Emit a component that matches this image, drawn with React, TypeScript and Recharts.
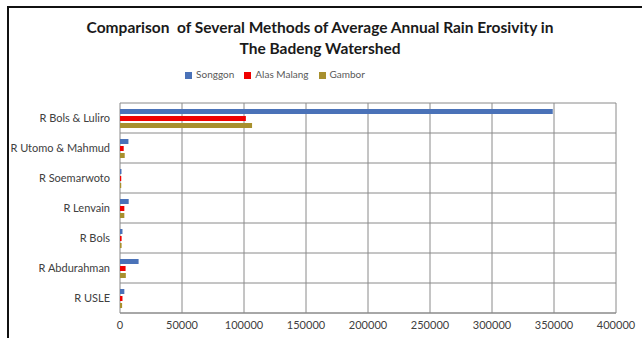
import { BarChart, Bar, XAxis, YAxis, CartesianGrid, Legend } from 'recharts';

const methods = ['R Bols & Luliro', 'R Utomo & Mahmud', 'R Soemarwoto', 'R Lenvain', 'R Bols', 'R Abdurahman', 'R USLE'];
const songgon = [349000, 6800, 1200, 7000, 2000, 15000, 3500];
const alasMalang = [101500, 3000, 1000, 3500, 1300, 4500, 2000];
const gambor = [106500, 3800, 1000, 3500, 1300, 4700, 1700];
const xTicks = [0, 50000, 100000, 150000, 200000, 250000, 300000, 350000, 400000];

const data = methods.map((name, i) => ({
  name,
  Songgon: songgon[i],
  'Alas Malang': alasMalang[i],
  Gambor: gambor[i],
}));

const gridColor = '#8a8a8a';
const textColor = '#404040';
const font = 'Lato, "Open Sans", sans-serif';

// lines between categories rather than through their centres
const rowBoundaries = ({ offset }: any) =>
  Array.from({ length: methods.length + 1 }, (_, i) => offset.top + (i * offset.height) / methods.length);

// single-line category labels (the default tick wraps long names)
const MethodTick = ({ x, y, payload }: any) => (
  <text x={x} y={y} dy="0.355em" textAnchor="end" fill={textColor} fontSize={11} fontFamily={font}>
    {payload.value}
  </text>
);

export default function App() {
  return (
    <div style={{ position: 'relative', width: 642, height: 338, background: '#fff', overflow: 'hidden', fontFamily: font }}>
      <style>{'body{margin:0}'}</style>
      <div style={{ position: 'absolute', left: 7, top: 6, right: -10, bottom: -10, borderLeft: '2px solid #111', borderTop: '2px solid #111' }} />
      <div style={{ position: 'absolute', top: 17, left: 0, width: 640, textAlign: 'center', fontWeight: 700, fontSize: 15.5, lineHeight: '21px', color: '#1a1a1a' }}>
        <div>Comparison&nbsp; of Several Methods of Average Annual Rain Erosivity in</div>
        <div>The Badeng Watershed</div>
      </div>
      <BarChart
        width={642}
        height={338}
        layout="vertical"
        data={data}
        margin={{ top: 103, right: 26, left: 0, bottom: 0 }}
        barSize={5}
        barGap={2}
        style={{ position: 'absolute', left: 0, top: 0 }}
      >
        <CartesianGrid stroke={gridColor} horizontalCoordinatesGenerator={rowBoundaries} />
        <XAxis
          type="number"
          domain={[0, 400000]}
          ticks={xTicks}
          interval={0}
          height={25}
          tickLine={false}
          axisLine={{ stroke: gridColor }}
          tick={{ fill: textColor, fontSize: 11, fontFamily: font }}
        />
        <YAxis
          type="category"
          dataKey="name"
          width={120}
          tickLine={false}
          axisLine={false}
          tickMargin={4}
          tick={<MethodTick />}
        />
        <Legend
          verticalAlign="middle"
          align="center"
          iconType="square"
          iconSize={7}
          itemSorter={null as any}
          wrapperStyle={{ top: 68, left: 0, width: 560, fontSize: 10, fontFamily: font }}
          formatter={(v: string) => <span style={{ color: '#595959' }}>{v}</span>}
        />
        <Bar dataKey="Songgon" fill="#4a72b8" isAnimationActive={false} />
        <Bar dataKey="Alas Malang" fill="#f00000" isAnimationActive={false} />
        <Bar dataKey="Gambor" fill="#a8902e" isAnimationActive={false} />
      </BarChart>
    </div>
  );
}
